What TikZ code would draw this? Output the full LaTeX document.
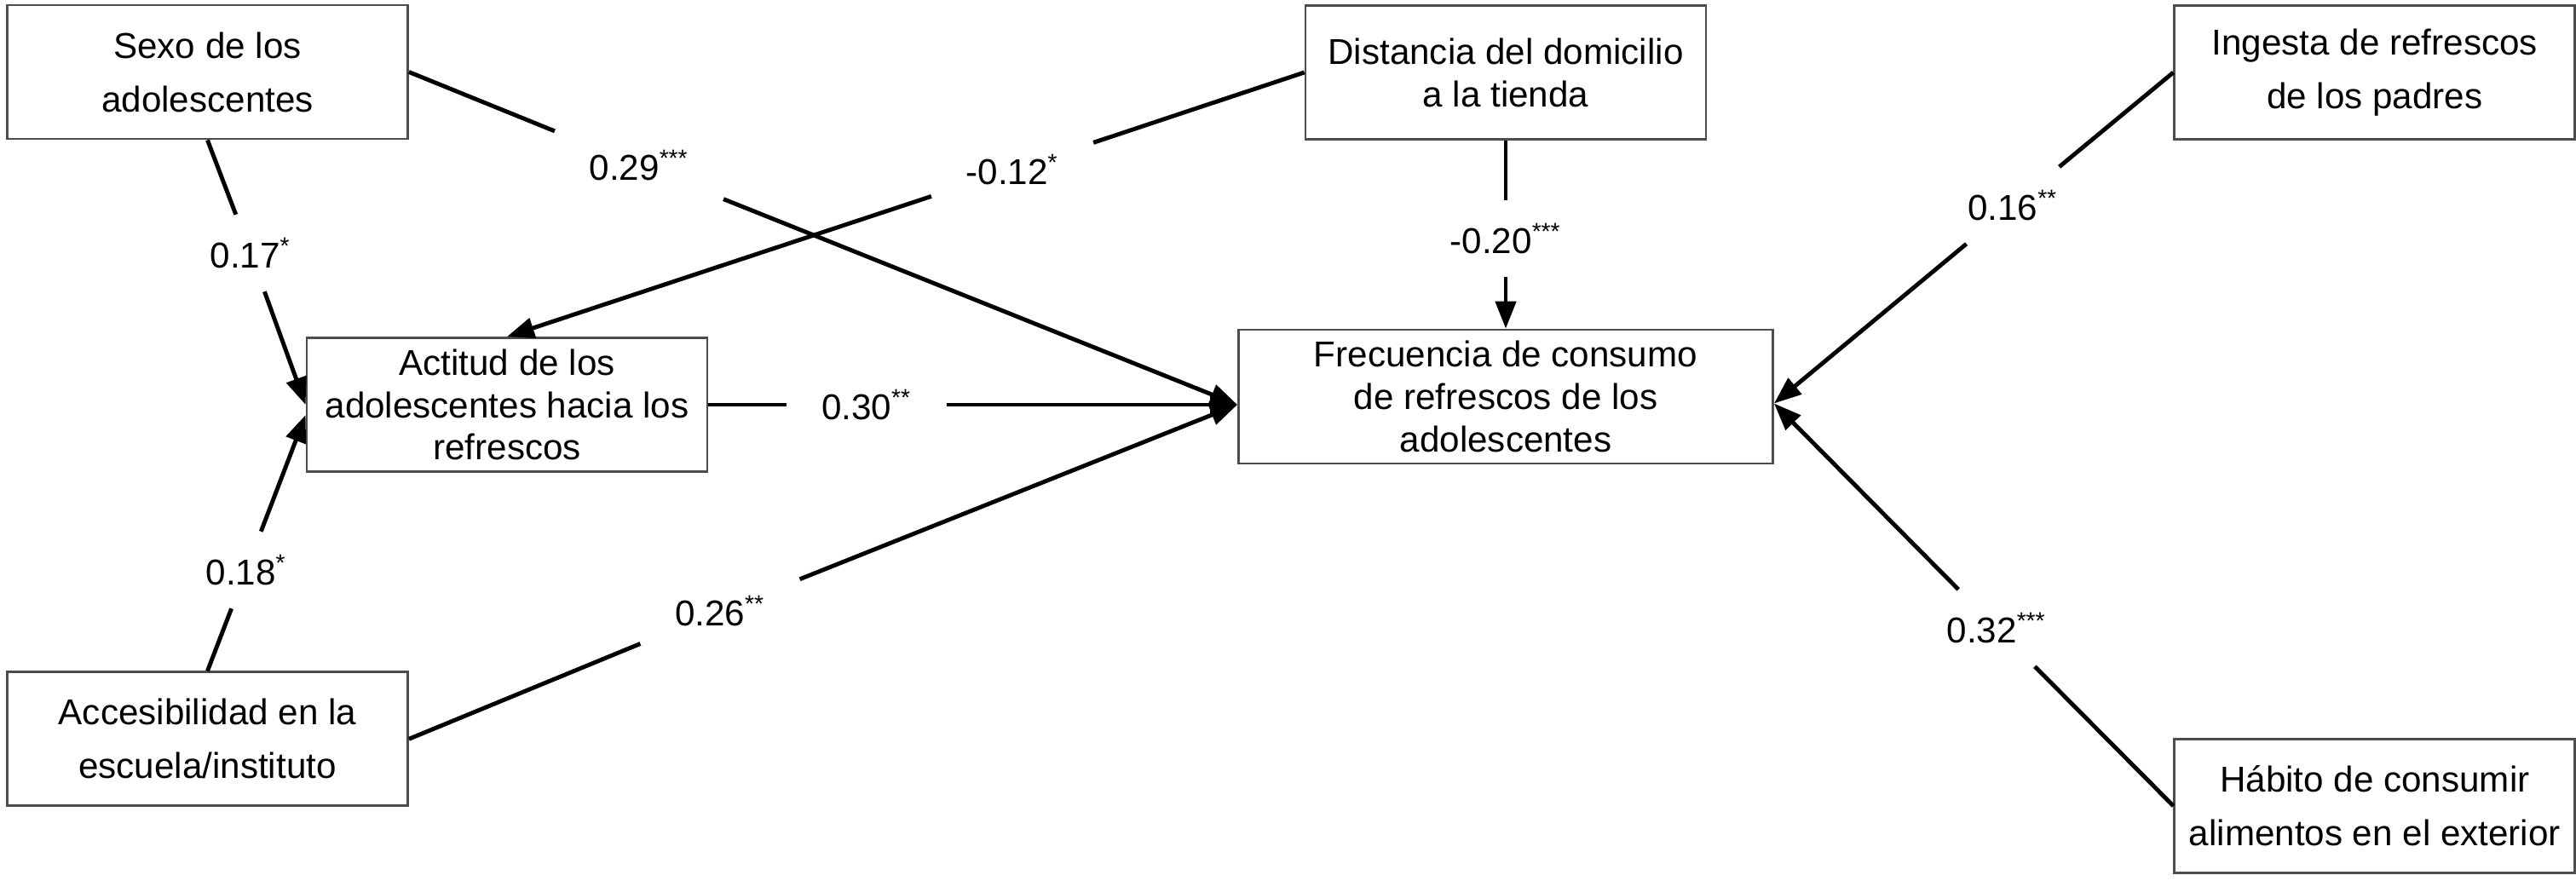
\documentclass[tikz,border=0pt]{standalone}
\usepackage{fontspec}
\setmainfont{Liberation Sans}
\usetikzlibrary{positioning}
\usetikzlibrary{arrows.meta}

\begin{document}
\begin{tikzpicture}[%
    >={Triangle[length=3.2mm,width=2.4mm]},
    font=\fontsize{12}{14.2}\selectfont,
varbox/.style={rectangle, align=center, draw=black!70, line width=0.8pt, minimum width=4.7cm, minimum height=1.57cm, inner sep=0pt},
widebox/.style={varbox, font=\fontsize{12}{17.9}\selectfont},
mainbox/.style={varbox, minimum width=6.27cm},
coef/.style={inner xsep=4mm, inner ysep=2.7mm},
link/.style={line width=1.4pt},
]
\useasboundingbox (0,0) rectangle (30.23,-10.33);

% Left Nodes
\node[widebox]    (sexo)   at (2.435,-0.845)   {Sexo de los\\adolescentes};
\node[widebox]    (acces)  [below=6.23cm of sexo] {Accesibilidad en la\\escuela/instituto};
\node[varbox]     (actitud) at (5.95,-4.75)    {Actitud de los\\adolescentes hacia los\\refrescos};

% Middle Nodes
\node[varbox]     (distancia) at (17.67,-0.85) {Distancia del domicilio\\a la tienda};
\node[mainbox]    (frec)   at (17.67,-4.655)   {Frecuencia de consumo\\de refrescos de los\\adolescentes};

% Right Nodes
\node[widebox]    (ingesta) [right=5.47cm of distancia] {Ingesta de refrescos\\de los padres};
\node[widebox]    (habito) [below=7.01cm of ingesta] {Hábito de consumir\\alimentos en el exterior};

\coordinate (frecin)  at (actitud.east -| frec.west);
\coordinate (frecout) at ([yshift=-0.8mm]frec.east);

% Coefficients
\node[coef] (c29) at (7.50,-1.94)  {0.29\textsuperscript{***}};
\node[coef] (c17) at (2.94,-2.97)  {0.17\textsuperscript{*}};
\node[coef] (c18) at (2.89,-6.69)  {0.18\textsuperscript{*}};
\node[coef] (c26) at (8.45,-7.17)  {0.26\textsuperscript{**}};
\node[coef] (c12) at (11.88,-1.99) {-0.12\textsuperscript{*}};
\node[coef] (c30) at (10.17,-4.75) {0.30\textsuperscript{**}};
\node[coef] (c20) at (17.67,-2.80) {-0.20\textsuperscript{***}};
\node[coef] (c16) at (23.62,-2.41) {0.16\textsuperscript{**}};
\node[coef] (c32) at (23.43,-7.37) {0.32\textsuperscript{***}};

% Lines to actitud
\draw[link] (sexo.south) -- (c17);
\draw[link,->] (c17) -- (actitud.west);
\draw[link] (acces.north) -- (c18);
\draw[link,->] (c18) -- ([yshift=-1.2mm]actitud.west);
\draw[link] (distancia.west) -- (c12);
\draw[link,->] (c12) -- (actitud.north);

% Lines to frecuencia
\draw[link] (sexo.east) -- (c29);
\draw[link,->] (c29) -- (frecin);
\draw[link] (actitud.east) -- (c30);
\draw[link,->] (c30) -- (frecin);
\draw[link] (acces.east) -- (c26);
\draw[link,->] (c26) -- (frecin);
\draw[link] (distancia.south) -- (c20);
\draw[link,->] (c20) -- (frec.north);
\draw[link] (ingesta.west) -- (c16);
\draw[link,->] (c16) -- (frecout);
\draw[link] (habito.west) -- (c32);
\draw[link,->] (c32) -- (frecout);

\end{tikzpicture}
\end{document}
